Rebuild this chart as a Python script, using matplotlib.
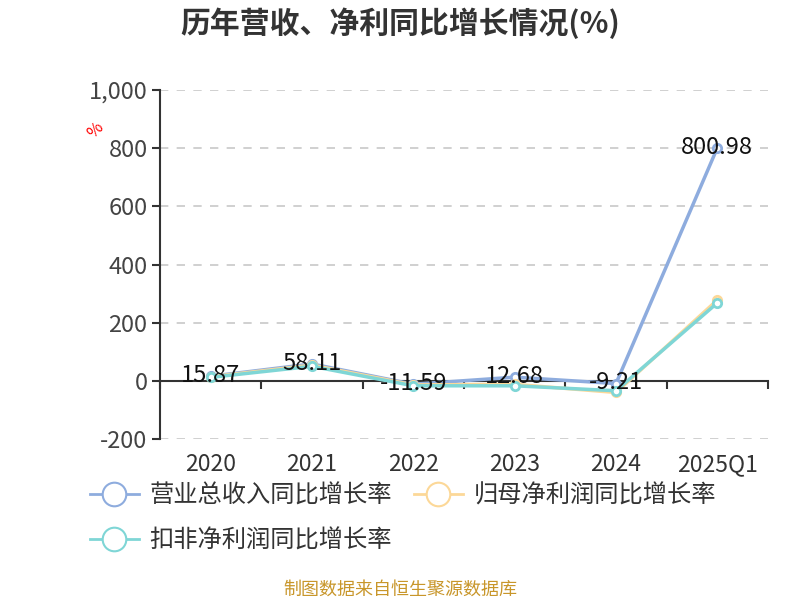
import matplotlib
matplotlib.use('Agg')
import matplotlib.pyplot as plt
from matplotlib.ticker import FuncFormatter, FixedLocator
from matplotlib.lines import Line2D

plt.rcParams['font.family'] = ['Noto Sans CJK SC', 'DejaVu Sans']

categories = ['2020', '2021', '2022', '2023', '2024', '2025Q1']
revenue_growth = [15.87, 58.11, -11.59, 12.68, -9.21, 800.98]
net_profit_growth = [14, 54, -14, -12, -40, 278]
deducted_profit_growth = [12, 50, -17, -17, -34, 268]

series_names = ['营业总收入同比增长率', '归母净利润同比增长率', '扣非净利润同比增长率']
colors = ['#8eacde', '#fcd898', '#7fd6d6']

fig = plt.figure(figsize=(8, 6), dpi=100)
ax = fig.add_axes([0.2, 0.2683, 0.76, 0.5817])

x = list(range(len(categories)))
all_series = [revenue_growth, net_profit_growth, deducted_profit_growth]
for i, vals in enumerate(all_series):
    ax.plot(x, vals, color=colors[i], lw=2.5, marker='o', markersize=6,
            markerfacecolor='white', markeredgecolor=colors[i], markeredgewidth=2,
            zorder=3 + i)

for xi, v in zip(x, revenue_growth):
    ax.text(xi, v + 3, f'{v:.2f}', ha='center', va='center', fontsize=17,
            color='#111111', zorder=10)

ax.set_xlim(-0.5, len(categories) - 0.5)
ax.set_ylim(-200, 1000)
ax.set_yticks([-200, 0, 200, 400, 600, 800, 1000])
ax.yaxis.set_major_formatter(FuncFormatter(lambda v, p: f'{int(v):,}'))
ax.tick_params(axis='y', labelsize=17, labelcolor='#444444', color='#333333',
               length=6, width=1.5, direction='out', pad=3)
ax.grid(axis='y', color='#c8c8c8', linestyle=(0, (5, 5)), lw=1.2)
ax.set_axisbelow(True)

ax.spines['top'].set_visible(False)
ax.spines['right'].set_visible(False)
ax.spines['left'].set_color('#333333')
ax.spines['left'].set_linewidth(1.5)
ax.spines['bottom'].set_position(('data', 0))
ax.spines['bottom'].set_color('#333333')
ax.spines['bottom'].set_linewidth(1.5)

ax.xaxis.set_major_locator(FixedLocator([i + 0.5 for i in range(-1, len(categories))]))
ax.tick_params(axis='x', labelbottom=False, color='#333333', length=6, width=1.5,
               direction='out')
for xi, c in zip(x, categories):
    ax.text(xi, -0.074, c, transform=ax.get_xaxis_transform(), ha='center',
            va='center', fontsize=16.5, color='#333333')

fig.text(0.119, 0.783, '%', color='red', fontsize=12, rotation=45,
         ha='center', va='center')

fig.text(0.5, 0.962, '历年营收、净利同比增长情况(%)', ha='center', va='center',
         fontsize=21.5, fontweight='bold', color='#333333')
fig.text(0.5, 0.017, '制图数据来自恒生聚源数据库', ha='center', va='center',
         fontsize=13, color='#c8962a')

handles = [Line2D([], [], color=colors[i], lw=2, marker='o', markersize=17,
                  markerfacecolor='white', markeredgecolor=colors[i],
                  markeredgewidth=1.5) for i in range(3)]
order = [0, 2, 1]
fig.legend([handles[i] for i in order], [series_names[i] for i in order],
           loc='upper left', bbox_to_anchor=(0.1125, 0.196), ncol=2,
           frameon=False, fontsize=17.5, handlelength=2.0, handletextpad=0.45,
           columnspacing=0.9, labelspacing=0.8, labelcolor='#333333',
           borderaxespad=0, borderpad=0)

fig.savefig('out.png', dpi=100)
